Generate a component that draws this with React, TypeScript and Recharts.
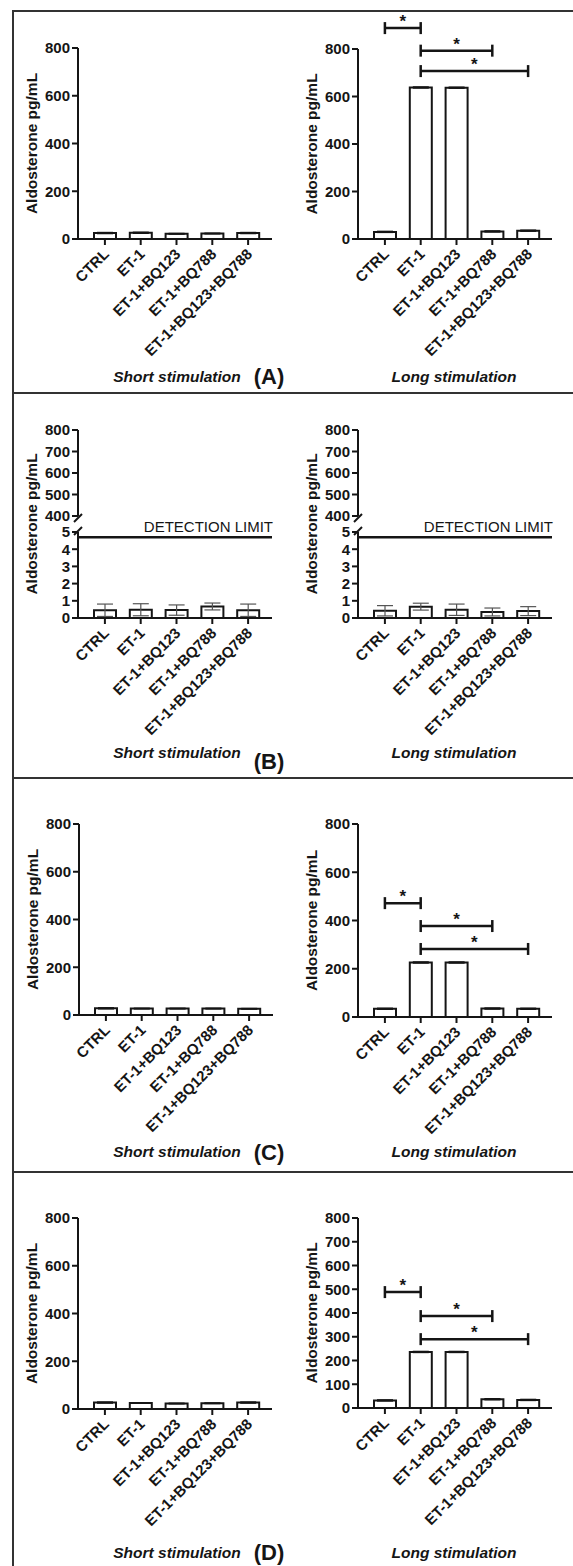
import React from "react";
import { ComposedChart, Bar, XAxis, YAxis, ErrorBar, ReferenceLine } from "recharts";

const categories = ["CTRL", "ET-1", "ET-1+BQ123", "ET-1+BQ788", "ET-1+BQ123+BQ788"];

// (A)
const shortA = [25, 26, 22, 23, 25];
const shortAErr = [2, 2, 1, 1, 2];
const longA = [30, 638, 637, 32, 35];
const longAErr = [2, 2, 2, 2, 2];
// (B) values below the detection limit
const shortB = [0.45, 0.48, 0.46, 0.67, 0.45];
const shortBErr = [0.36, 0.35, 0.3, 0.2, 0.36];
const longB = [0.42, 0.66, 0.48, 0.35, 0.4];
const longBErr = [0.3, 0.2, 0.33, 0.23, 0.26];
// (C)
const shortC = [28, 27, 27, 27, 26];
const shortCErr = [2, 1, 1, 1, 1];
const longC = [34, 226, 226, 35, 34];
const longCErr = [2, 2, 2, 2, 2];
// (D)
const shortD = [27, 25, 23, 24, 27];
const shortDErr = [2, 1, 1, 1, 2];
const longD = [32, 236, 236, 37, 34];
const longDErr = [2, 2, 2, 2, 2];

const ticks200 = [0, 200, 400, 600, 800];
const ticks100 = [0, 100, 200, 300, 400, 500, 600, 700, 800];
const upperTicks = [400, 500, 600, 700, 800];
const lowerTicks = [0, 1, 2, 3, 4, 5];
const detectionLimit = 4.7;

const sigA = [
  { from: "CTRL", to: "ET-1", y: 888 },
  { from: "ET-1", to: "ET-1+BQ788", y: 793 },
  { from: "ET-1", to: "ET-1+BQ123+BQ788", y: 707 },
];
const sigC = [
  { from: "CTRL", to: "ET-1", y: 472 },
  { from: "ET-1", to: "ET-1+BQ788", y: 377 },
  { from: "ET-1", to: "ET-1+BQ123+BQ788", y: 282 },
];
const sigD = [
  { from: "CTRL", to: "ET-1", y: 488 },
  { from: "ET-1", to: "ET-1+BQ788", y: 387 },
  { from: "ET-1", to: "ET-1+BQ123+BQ788", y: 290 },
];

const FONT = '"Liberation Sans", Arial, sans-serif';
const INK = "#151515";
const CHART_W = 290;
const Y_W = 62;
const PLOT_W = 194;
const X_H = 135;
const axisStyle = { stroke: INK, strokeWidth: 2 };
const yTick = { fontSize: 15, fontWeight: "bold", fill: INK, fontFamily: FONT };

const toRows = (vals: number[], errs: number[]) =>
  categories.map((name, i) => ({ name, value: vals[i], err: errs[i] }));

const XTick = (props: any) => {
  const { x, y, payload } = props;
  return (
    <g transform={`translate(${x + 5},${y + 8}) rotate(-45)`}>
      <text x={0} y={0} textAnchor="end" fontSize={15} fontWeight="bold" fill={INK} fontFamily={FONT}>
        {payload.value}
      </text>
    </g>
  );
};

const yLabel = (shift: number) => (props: any) => {
  const vb = props.viewBox || {};
  const cx = vb.x + 15;
  const cy = vb.y + vb.height / 2 + shift;
  return (
    <text
      x={cx}
      y={cy}
      transform={`rotate(-90, ${cx}, ${cy})`}
      textAnchor="middle"
      dominantBaseline="central"
      fontSize={15.5}
      fontWeight="bold"
      fill={INK}
      fontFamily={FONT}
    >
      Aldosterone pg/mL
    </text>
  );
};

const Bracket = (props: any) => {
  const { x1, x2, y1 } = props;
  const c = 6;
  return (
    <g>
      <line x1={x1} y1={y1} x2={x2} y2={y1} stroke={INK} strokeWidth={2.5} />
      <line x1={x1} y1={y1 - c} x2={x1} y2={y1 + c} stroke={INK} strokeWidth={2.5} />
      <line x1={x2} y1={y1 - c} x2={x2} y2={y1 + c} stroke={INK} strokeWidth={2.5} />
      <text x={(x1 + x2) / 2} y={y1 - 1} textAnchor="middle" fontSize={17} fontWeight="bold" fill={INK} fontFamily={FONT}>
        *
      </text>
    </g>
  );
};

const limitLabel = (props: any) => {
  const vb = props.viewBox || {};
  return (
    <text x={vb.x + vb.width + 1} y={vb.y - 5} textAnchor="end" fontSize={15} fill={INK} fontFamily={FONT}>
      DETECTION LIMIT
    </text>
  );
};

function BarPanel({ axisX, top, plotH, values, errors, ticks, sig = [] }: any) {
  const mTop = 50;
  return (
    <div style={{ position: "absolute", left: axisX - Y_W, top: top - mTop }}>
      <ComposedChart
        width={CHART_W}
        height={mTop + plotH + X_H}
        data={toRows(values, errors)}
        margin={{ top: mTop, right: CHART_W - Y_W - PLOT_W, bottom: 0, left: 0 }}
      >
        <XAxis
          dataKey="name"
          interval={0}
          height={X_H}
          padding={{ left: 9, right: 6 }}
          axisLine={axisStyle}
          tickLine={axisStyle}
          tickSize={6}
          tick={<XTick />}
        />
        <YAxis
          type="number"
          domain={[ticks[0], ticks[ticks.length - 1]]}
          ticks={ticks}
          interval={0}
          allowDataOverflow
          width={Y_W}
          axisLine={axisStyle}
          tickLine={axisStyle}
          tickSize={6}
          tick={yTick}
          label={yLabel(0)}
        />
        <Bar dataKey="value" fill="#fff" stroke={INK} strokeWidth={2} barSize={22} isAnimationActive={false}>
          <ErrorBar dataKey="err" width={8} stroke={INK} strokeWidth={1.5} />
        </Bar>
        {sig.map((s: any, i: number) => (
          <ReferenceLine
            key={i}
            segment={[
              { x: s.from, y: s.y },
              { x: s.to, y: s.y },
            ]}
            ifOverflow="visible"
            shape={Bracket}
          />
        ))}
      </ComposedChart>
    </div>
  );
}

function BrokenPanel({ axisX, upperTop, lowerTop, segH, values, errors }: any) {
  const rows = toRows(values, errors);
  const m = 10;
  const labelShift = -((lowerTop - upperTop) / 2);
  return (
    <>
      <div style={{ position: "absolute", left: axisX - Y_W, top: upperTop - m }}>
        <ComposedChart
          width={CHART_W}
          height={m + segH + 6}
          data={rows}
          margin={{ top: m, right: CHART_W - Y_W - PLOT_W, bottom: 6, left: 0 }}
        >
          <XAxis dataKey="name" hide padding={{ left: 9, right: 6 }} />
          <YAxis
            type="number"
            domain={[400, 800]}
            ticks={upperTicks}
            interval={0}
            allowDataOverflow
            width={Y_W}
            axisLine={axisStyle}
            tickLine={axisStyle}
            tickSize={6}
            tick={yTick}
          />
        </ComposedChart>
      </div>
      <div style={{ position: "absolute", left: axisX - Y_W, top: lowerTop - m }}>
        <ComposedChart
          width={CHART_W}
          height={m + segH + X_H}
          data={rows}
          margin={{ top: m, right: CHART_W - Y_W - PLOT_W, bottom: 0, left: 0 }}
        >
          <XAxis
            dataKey="name"
            interval={0}
            height={X_H}
            padding={{ left: 9, right: 6 }}
            axisLine={axisStyle}
            tickLine={axisStyle}
            tickSize={6}
            tick={<XTick />}
          />
          <YAxis
            type="number"
            domain={[0, 5]}
            ticks={lowerTicks}
            interval={0}
            allowDataOverflow
            width={Y_W}
            axisLine={axisStyle}
            tickLine={axisStyle}
            tickSize={6}
            tick={yTick}
            label={yLabel(labelShift)}
          />
          <Bar dataKey="value" fill="#fff" stroke={INK} strokeWidth={2} barSize={22} isAnimationActive={false}>
            <ErrorBar dataKey="err" width={8} stroke="#555" strokeWidth={1.2} />
          </Bar>
          <ReferenceLine y={detectionLimit} stroke={INK} strokeWidth={2.5} ifOverflow="visible" label={limitLabel} />
        </ComposedChart>
      </div>
      <svg style={{ position: "absolute", left: axisX - 8, top: upperTop + segH - 4, overflow: "visible" }} width={16} height={24}>
        <line x1={4} y1={10} x2={12} y2={2} stroke={INK} strokeWidth={2} />
        <line x1={4} y1={23} x2={12} y2={15} stroke={INK} strokeWidth={2} />
      </svg>
    </>
  );
}

const textStyle: React.CSSProperties = {
  position: "absolute",
  transform: "translate(-50%, -50%)",
  fontFamily: FONT,
  fontWeight: "bold",
  color: INK,
  whiteSpace: "nowrap",
};

function Captions({ y, letter, letterY }: any) {
  return (
    <>
      <div style={{ ...textStyle, left: 177, top: y, fontSize: 15.5, fontStyle: "italic" }}>Short stimulation</div>
      <div style={{ ...textStyle, left: 454, top: y, fontSize: 15.5, fontStyle: "italic" }}>Long stimulation</div>
      <div style={{ ...textStyle, left: 269, top: letterY, fontSize: 22 }}>{letter}</div>
    </>
  );
}

const hLine = (y: number) => (
  <div style={{ position: "absolute", left: 12, top: y, width: 561, height: 0, borderTop: "2px solid #333" }} />
);

export default function App() {
  return (
    <div style={{ position: "absolute", left: 0, top: 0, width: 573, height: 1566, overflow: "hidden", background: "#fff" }}>
      <style>{".recharts-surface{overflow:visible}"}</style>
      <div style={{ position: "absolute", left: 12, top: 10, width: 0, height: 1556, borderLeft: "2px solid #333" }} />
      {hLine(10)}
      {hLine(392)}
      {hLine(777)}
      {hLine(1171)}

      <BarPanel axisX={78} top={48} plotH={191} values={shortA} errors={shortAErr} ticks={ticks200} />
      <BarPanel axisX={358} top={49} plotH={190} values={longA} errors={longAErr} ticks={ticks200} sig={sigA} />
      <Captions y={377} letter="(A)" letterY={377} />

      <BrokenPanel axisX={78} upperTop={430} lowerTop={532} segH={86} values={shortB} errors={shortBErr} />
      <BrokenPanel axisX={358} upperTop={430} lowerTop={532} segH={86} values={longB} errors={longBErr} />
      <Captions y={753} letter="(B)" letterY={762} />

      <BarPanel axisX={79} top={824} plotH={191} values={shortC} errors={shortCErr} ticks={ticks200} />
      <BarPanel axisX={358} top={824} plotH={193} values={longC} errors={longCErr} ticks={ticks200} sig={sigC} />
      <Captions y={1152} letter="(C)" letterY={1153} />

      <BarPanel axisX={78} top={1218} plotH={191} values={shortD} errors={shortDErr} ticks={ticks200} />
      <BarPanel axisX={358} top={1218} plotH={190} values={longD} errors={longDErr} ticks={ticks100} sig={sigD} />
      <Captions y={1553} letter="(D)" letterY={1553} />
    </div>
  );
}
